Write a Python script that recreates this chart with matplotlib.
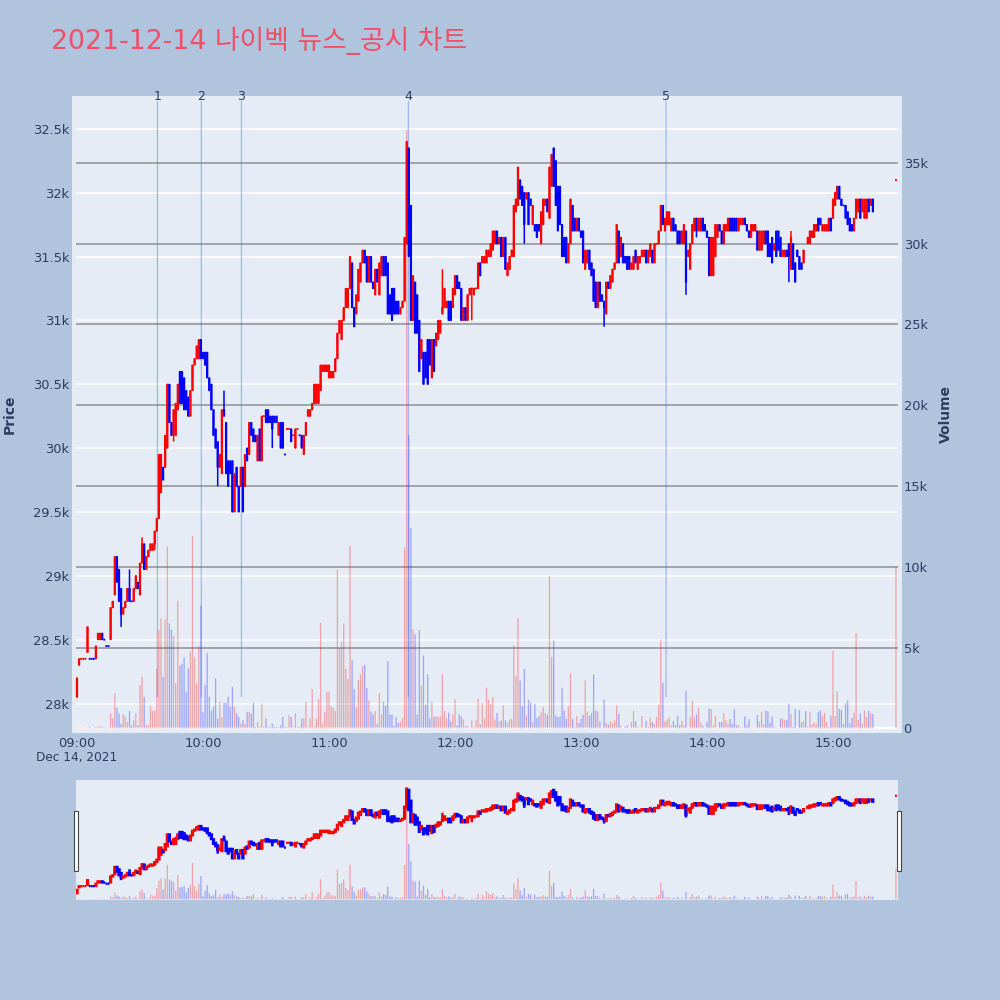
import numpy as np
import matplotlib
matplotlib.use("Agg")
import matplotlib.pyplot as plt
from matplotlib.patches import Rectangle

N = None
opens = [
28050,28300,28350,28350,28350,28400,28350,28350,28350,28350,
28500,28500,28550,28500,28450,28450,28500,28750,28850,29150,
29050,28900,28700,28750,28800,28900,28800,28800,28900,28950,
28850,29100,29250,29050,29150,29200,29200,29250,29350,29450,
29650,29850,29850,30000,30500,30200,30100,30100,30300,30600,
30600,30550,30450,30400,30250,30450,30650,30700,30700,30850,
30750,30750,30750,30550,30500,30300,30150,30050,29850,29800,
30300,30200,29900,29900,29900,29500,29850,29700,29700,29850,
29700,30000,29950,30200,30150,30100,29900,30150,29900,30250,
30300,30300,30250,30250,30250,30250,30100,30200,30200,29950,
30150,30150,30150,30100,30000,30150,30100,30100,29950,30100,
30250,30250,30300,30350,30350,30350,30450,30600,30600,30600,
30550,30550,30550,30600,30700,30900,30850,31000,31100,31100,
31250,31450,31100,31050,31150,31300,31450,31550,31500,31300,
31500,31300,31200,31400,31200,31350,31500,31500,31450,31200,
31250,31250,31150,31150,31050,31100,31150,31600,32350,31900,
31000,31300,31200,31000,30700,30750,30750,30850,30850,30550,
30850,30800,30850,30900,31050,31100,31100,31150,31150,31100,
31200,31350,31300,31250,31000,31100,31000,31200,31250,31200,
31250,31250,31450,31450,31450,31450,31500,31500,31550,31600,
31700,31600,31650,31500,31650,31350,31400,31500,31500,31850,
31900,32100,32050,32000,31950,32000,31950,31750,31750,31750,
31750,31600,31750,31900,31950,31800,32050,32350,32250,32050,
32050,31750,31650,31650,31450,31600,31900,31800,31700,31800,
31700,31700,31400,31450,31550,31450,31400,31300,31100,31300,
31200,31150,31050,31300,31250,31300,31400,31450,31700,31500,
31600,31500,31500,31500,31400,31400,31550,31400,31450,31500,
31500,31550,31450,31500,31550,31450,31600,31600,31700,31900,
31700,31750,31750,31700,31800,31750,31700,31700,31600,31600,
31700,31500,31400,31600,31700,31800,31700,31700,31800,31750,
31700,31650,31350,31350,31500,31650,31750,31700,31600,31700,
31700,31800,31800,31800,31800,31700,31750,31750,31800,31750,
31700,31650,31700,31700,31700,31550,31550,31600,31700,31700,
31600,31650,31550,31700,31700,31650,31500,31500,31550,31600,
31400,31600,31450,31550,31500,31450,31450,N,31600,31600,
31650,31650,31700,31800,31800,31700,31700,31700,31700,31800,
31800,31900,31950,32050,31950,31900,31900,31850,31800,31750,
31700,31800,31850,31950,31850,31800,31800,31950,31900,31950,
N,N,N,N,N,N,N,N,N,N,
32100]
closes = [
28200,28350,28350,28350,28350,28600,28350,28350,28350,28450,
28550,28550,28500,28500,28450,28450,28750,28800,29150,28950,
28800,28700,28750,28800,28900,28800,28800,28900,29000,28900,
29100,29250,29050,29150,29200,29250,29250,29350,29450,29950,
29950,29750,30100,30500,30200,30100,30300,30350,30500,30350,
30350,30300,30300,30250,30450,30650,30700,30800,30850,30700,
30700,30650,30550,30450,30300,30100,30000,29850,29950,30300,
30250,29800,29700,29800,29500,29800,29700,29500,29850,29500,
29950,29900,30200,30100,30050,30050,30100,29900,30250,30250,
30200,30200,30200,30150,30200,30200,30200,30000,30000,29950,
30150,30150,30050,30100,30150,30150,30100,30000,30100,30200,
30300,30300,30350,30500,30500,30500,30650,30650,30650,30650,
30650,30600,30600,30700,30900,31000,31000,31100,31250,31250,
31500,31100,30950,31200,31400,31450,31550,31450,31300,31500,
31300,31250,31400,31300,31450,31500,31350,31350,31050,31050,
31000,31050,31050,31050,31100,31150,31650,32400,31500,31000,
31350,30900,30900,30600,30850,30500,30550,30500,30650,30850,
30600,30900,31000,31000,31100,31250,31150,31000,31000,31250,
31350,31250,31250,31000,31100,31000,31200,31250,31250,31250,
31250,31450,31350,31500,31500,31550,31550,31600,31700,31700,
31600,31650,31500,31650,31400,31450,31500,31550,31900,31950,
32200,31950,31900,31750,32000,31750,31900,31900,31700,31650,
31700,31850,31950,31950,31850,32200,32300,32050,31900,31700,
31750,31500,31500,31450,31600,31950,31700,31700,31800,31700,
31650,31450,31550,31550,31400,31350,31150,31100,31300,31150,
31150,31100,31300,31250,31350,31400,31450,31750,31450,31650,
31450,31450,31400,31400,31450,31500,31450,31500,31500,31550,
31550,31450,31550,31600,31450,31600,31600,31700,31900,31750,
31800,31850,31850,31800,31700,31700,31600,31600,31700,31750,
31300,31550,31600,31750,31800,31700,31800,31800,31700,31700,
31650,31350,31650,31650,31750,31750,31700,31600,31750,31750,
31800,31700,31700,31700,31700,31800,31800,31800,31750,31700,
31650,31750,31750,31750,31550,31700,31700,31700,31600,31500,
31500,31450,31600,31500,31550,31500,31550,31550,31500,31500,
31650,31400,31300,31500,31400,31400,31550,N,31650,31700,
31700,31750,31750,31700,31750,31750,31750,31750,31800,31700,
31950,32000,32050,31950,31900,31900,31800,31750,31700,31700,
31800,31950,31950,31800,31950,31950,31950,31850,31950,31850,
N,N,N,N,N,N,N,N,N,N,
32100]
wick_high = {25: 29050, 31: 29300, 70: 30450, 174: 31400, 339: 31600, 340: 31700}
wick_low = {21: 28600, 37: 29200, 46: 30050, 67: 29700, 93: 30000, 188: 31000,
            213: 31600, 251: 30950, 290: 31200, 295: 31650, 339: 31300}
volumes = [
60,50,80,40,70,60,110,50,60,90,130,120,110,60,50,60,930,620,2170,1280,
930,270,890,760,410,1090,200,520,930,200,2680,3200,1960,200,200,1400,1090,1130,3700,6100,
6800,3200,6750,11250,6500,6100,5700,2800,7900,3900,4000,4400,2270,3700,4750,11900,4400,2800,5100,7600,
1000,2700,4650,1960,1100,1340,3100,600,1650,700,1590,1590,1960,1340,2580,1340,930,720,300,520,
300,1030,1030,930,1590,100,400,100,1550,100,620,100,100,300,100,100,100,200,720,100,
100,830,720,100,930,100,100,620,620,1650,100,620,2420,100,620,1800,6550,300,1030,2270,
2270,1360,1280,1070,9830,5000,5350,6500,3700,3080,11300,4250,2440,1280,3000,3350,3840,3940,2500,1730,
1050,870,1070,290,2200,870,1650,1420,4170,870,850,150,700,330,430,640,11200,37000,18150,12400,
6130,5820,870,6100,2660,4520,1470,3350,640,1670,700,760,740,740,3350,1070,620,970,430,870,
1800,190,870,740,560,150,150,50,500,80,500,1840,250,1570,620,2520,1780,1530,1940,560,
950,430,500,1420,500,330,560,600,5140,3240,6850,2970,1380,3700,800,1780,1590,390,1530,640,
760,1010,1320,950,850,9420,4420,5450,800,700,740,2520,1110,600,1380,3390,600,80,760,330,
600,850,2970,1050,800,950,3350,1110,1050,430,50,1780,350,250,450,330,500,1420,900,200,
40,100,200,50,400,1100,450,100,60,760,50,470,100,660,400,270,720,1450,5500,2830,
450,560,680,200,470,200,780,200,470,200,2310,50,720,1690,680,870,1280,370,160,50,
390,1220,1200,200,780,50,400,400,930,520,300,580,270,1200,200,210,80,80,760,200,
580,60,60,30,830,410,1030,250,1110,1070,350,740,100,60,30,620,620,520,520,1530,
890,100,1220,30,1140,370,450,1070,100,1010,250,390,280,1010,1110,780,970,410,100,780,
4790,780,2290,1200,1150,280,1570,1750,310,660,970,5900,520,930,310,1110,720,1090,930,890,
0,0,0,0,0,0,0,0,0,0,
10000]
hour_ticks = [0, 60, 120, 180, 240, 300, 360]
hour_labels = ["09:00", "10:00", "11:00", "12:00", "13:00", "14:00", "15:00"]
price_ticks = [28000, 28500, 29000, 29500, 30000, 30500, 31000, 31500, 32000, 32500]
price_labels = ["28k", "28.5k", "29k", "29.5k", "30k", "30.5k", "31k", "31.5k", "32k", "32.5k"]
volume_ticks = [0, 5000, 10000, 15000, 20000, 25000, 30000, 35000]
volume_labels = ["0", "5k", "10k", "15k", "20k", "25k", "30k", "35k"]
event_minutes = [38.3, 59.2, 78.3, 157.8, 280.5]
event_labels = ["1", "2", "3", "4", "5"]

plt.rcParams['font.family'] = ['DejaVu Sans', 'Noto Sans CJK KR']
BG = "#B0C4DE"; PLOT = "#E5ECF6"; INK = "#2a3f5f"
XLIM = (-2.38, 392.62); PLIM = (27773, 32757); VLIM = (-250, 39130)

o = np.array([np.nan if v is None else v for v in opens], float)
c = np.array([np.nan if v is None else v for v in closes], float)
n = len(o)
x = np.arange(n)
v = np.array(volumes, float)
up = np.zeros(n, bool)
prev, last = None, True
for i in range(n):
    if np.isnan(o[i]):
        continue
    if c[i] > o[i]: u = True
    elif c[i] < o[i]: u = False
    elif prev is not None and c[i] > prev: u = True
    elif prev is not None and c[i] < prev: u = False
    else: u = last
    up[i] = u; last = u; prev = c[i]
cols = np.where(up, "#ff0000", "#0000ff")
valid = ~np.isnan(o)
flat = valid & (np.nan_to_num(o) == np.nan_to_num(c))
hi = np.fmax(o, c); lo = np.fmin(o, c)
for k, val in wick_high.items(): hi[k] = val
for k, val in wick_low.items(): lo[k] = val

def candles(a, wick_lw, edge, dash_lw):
    w = a.vlines(x[valid], lo[valid], hi[valid], colors=cols[valid], lw=wick_lw, zorder=3)
    w.set_snap(False)
    bars = a.bar(x[valid], (c - o)[valid], bottom=o[valid], width=0.55, color=cols[valid],
                 edgecolor=cols[valid], linewidth=edge, zorder=4)
    for p in bars:
        p.set_snap(False)
    d = a.hlines(o[flat], x[flat] - 0.45, x[flat] + 0.45, colors=cols[flat], lw=dash_lw, zorder=4)
    d.set_snap(False)

def vol_bars(a):
    bars = a.bar(x, v, width=0.62, color=cols, alpha=0.3, linewidth=0, zorder=2)
    for p in bars:
        p.set_snap(False)

fig = plt.figure(figsize=(10, 10), dpi=100, facecolor=BG)
def axes_px(l, t, r, b):
    return [l / 1000, 1 - b / 1000, (r - l) / 1000, (b - t) / 1000]

# main panel: grid layer, volume layer, price layer
axg = fig.add_axes(axes_px(72, 96, 901.5, 732.5), facecolor=PLOT)
axg.set_xlim(XLIM); axg.set_ylim(PLIM)
axg.hlines(price_ticks, -0.5, 391, colors="white", lw=1.1)
axg.set_xticks([]); axg.set_yticks([])
axg.set_zorder(0)
axv = fig.add_axes(axes_px(72, 96, 901.5, 732.5))
axp = axv.twinx()
axv.yaxis.tick_right(); axp.yaxis.tick_left()
axv.set_zorder(1); axp.set_zorder(2)
axv.patch.set_visible(False); axp.patch.set_visible(False)
axv.set_xlim(XLIM); axp.set_xlim(XLIM)
axv.set_ylim(VLIM); axp.set_ylim(PLIM)
axv.hlines(volume_ticks[1:], -0.5, 391, colors="#808080", lw=1.1, alpha=0.85, zorder=1)
axv.hlines([0], -0.5, 391, colors="white", lw=1.6, zorder=1)
vol_bars(axv)
candles(axp, 1.1, 0.8, 1.3)
ev = axp.vlines(event_minutes, 28050, 32718, colors="#4169E1", lw=0.9, alpha=0.42, zorder=2.5)
ev.set_snap(False)
for m, lab in zip(event_minutes, event_labels):
    axp.text(m, 32750, lab, color=INK, fontsize=9, ha="center", va="center", zorder=6, clip_on=False)
for s in list(axg.spines.values()) + list(axv.spines.values()) + list(axp.spines.values()):
    s.set_visible(False)
axv.set_yticks(volume_ticks, volume_labels)
axp.set_yticks(price_ticks, price_labels)
axv.set_xticks(hour_ticks, hour_labels)
axv.tick_params(axis="both", length=0, colors=INK, labelsize=9.4)
axv.tick_params(axis="y", pad=1.5)
axv.tick_params(axis="x", pad=3)
axp.tick_params(axis="y", length=0, colors=INK, labelsize=9.4, pad=2)
fig.text(77 / 1000, 1 - 757.5 / 1000, "Dec 14, 2021", color=INK, fontsize=8.7, ha="center", va="center")
fig.text(9.5 / 1000, 1 - 414 / 1000, "Price", color=INK, fontsize=10, fontweight="bold", rotation=90, ha="center", va="center")
fig.text(946 / 1000, 1 - 414 / 1000, "Volume", color=INK, fontsize=10, fontweight="bold", rotation=90, ha="center", va="center")
fig.text(51 / 1000, 1 - 41 / 1000, "2021-12-14 나이벡 뉴스_공시 차트", color="#EF5068", fontsize=19.3, ha="left", va="center")

# range slider
sv = fig.add_axes(axes_px(76, 780, 898, 900), facecolor=PLOT)
sp = sv.twinx()
sv.set_zorder(1); sp.set_zorder(2); sp.patch.set_visible(False)
sv.set_xlim(-0.5, 391); sp.set_xlim(-0.5, 391)
sv.set_ylim(VLIM); sp.set_ylim(PLIM)
vol_bars(sv)
candles(sp, 1.8, 1.5, 1.5)
for a in (sv, sp):
    a.set_xticks([]); a.set_yticks([])
    for s in a.spines.values():
        s.set_visible(False)
for hx in (73.5, 896.5):
    fig.add_artist(Rectangle((hx / 1000, 1 - 870.5 / 1000), 4 / 1000, 60 / 1000,
                             transform=fig.transFigure, facecolor="white",
                             edgecolor="#444444", linewidth=0.8, zorder=10))

fig.savefig("out.png", dpi=100, facecolor=BG)
